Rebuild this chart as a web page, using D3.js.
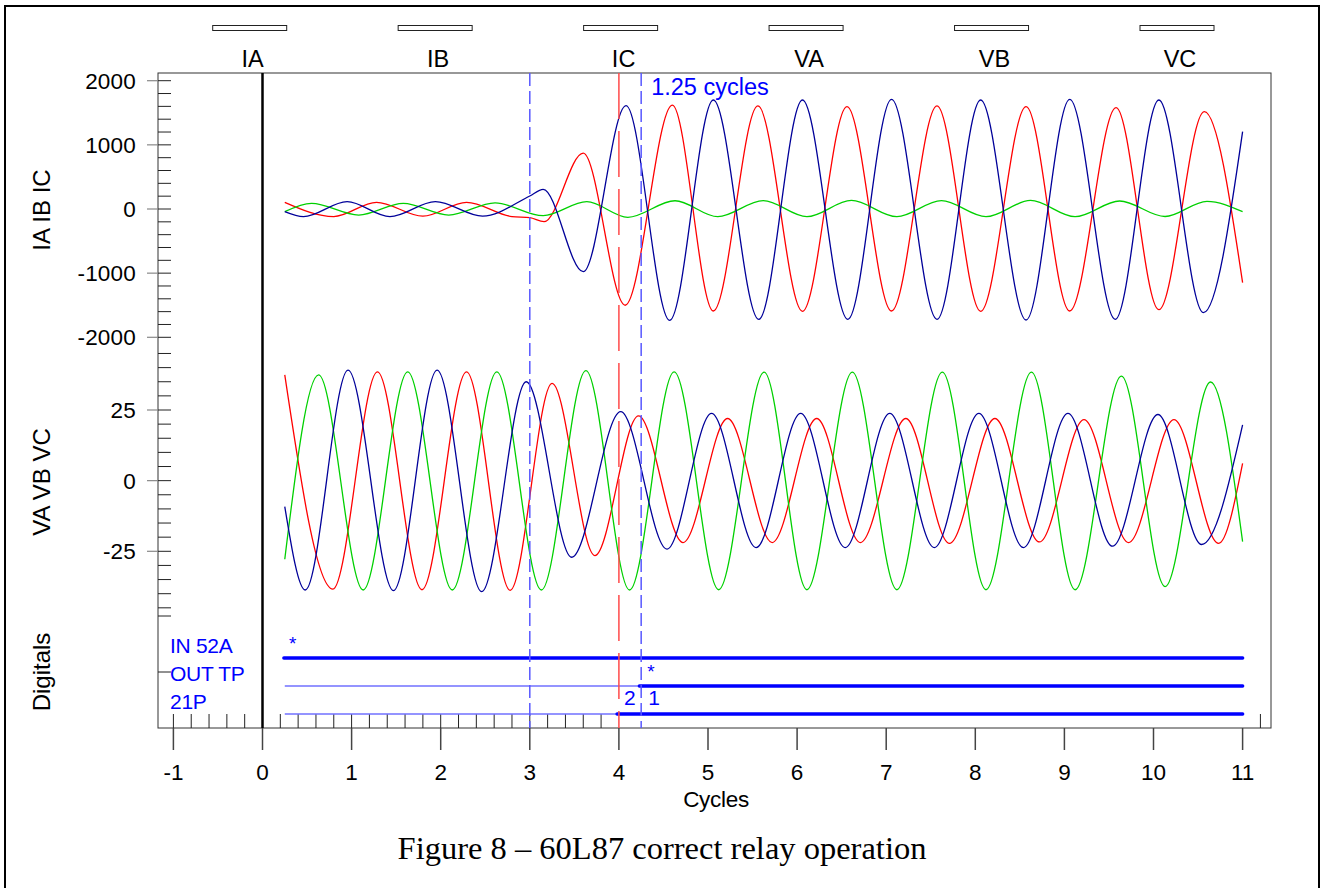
<!DOCTYPE html>
<html>
<head>
<meta charset="utf-8">
<script src="https://cdn.jsdelivr.net/npm/d3@7"></script>
<style>
  html, body { margin: 0; padding: 0; background: #fff; }
  svg { display: block; }
  text { font-family: "Liberation Sans", Arial, sans-serif; }
</style>
</head>
<body>
<svg id="chart" width="1322" height="888"></svg>
<script>
// channel names shown across the top
const channels = ['IA', 'IB', 'IC', 'VA', 'VB', 'VC'];

// current traces, peaks/troughs: [cycle, amps]
const iaPts = [[0.25, 104], [0.80, -118], [1.28, 104], [1.80, -112], [2.29, 104], [2.80, -118],
  [3.0, -135], [3.16, -198], [3.6, 870], [4.07, -1500], [4.6, 1620], [5.06, -1590], [5.56, 1606],
  [6.06, -1595], [6.56, 1595], [7.06, -1590], [7.57, 1606], [8.06, -1595], [8.57, 1595],
  [9.06, -1590], [9.58, 1580], [10.06, -1570], [10.57, 1517], [11.0, -1148]];
const ibPts = [[0.25, -42], [0.55, 88], [1.08, -94], [1.58, 88], [2.09, -94], [2.61, 95],
  [3.15, -104], [3.64, 114], [4.1, -129], [4.63, 129], [5.11, -120], [5.62, 130], [6.11, -120],
  [6.61, 133], [7.12, -120], [7.62, 130], [8.12, -120], [8.62, 133], [9.12, -120], [9.62, 125],
  [10.13, -117], [10.6, 120], [11.0, -40]];
const icPts = [[0.25, -42], [0.46, -120], [0.95, 114], [1.43, -120], [1.94, 114], [2.47, -112],
  [3.0, 203], [3.15, 307], [3.6, -977], [4.08, 1610], [4.57, -1735], [5.06, 1699], [5.57, -1720],
  [6.06, 1699], [6.57, -1720], [7.06, 1710], [7.57, -1720], [8.06, 1699], [8.57, -1730],
  [9.06, 1710], [9.57, -1720], [10.06, 1699], [10.56, -1616], [11.0, 1205]];

// voltage traces: [cycle, kV]
const vaPts = [[0.25, 37.4], [0.79, -38.4], [1.29, 38.5], [1.79, -38.6], [2.29, 38.5], [2.78, -38.8],
  [3.25, 34.4], [3.73, -26.5], [4.22, 22.9], [4.72, -21.9], [5.22, 22], [5.72, -21.9], [6.22, 22],
  [6.71, -21.9], [7.22, 22], [7.71, -22.2], [8.22, 22], [8.72, -21.7], [9.22, 21.6], [9.72, -21.9],
  [10.23, 21.6], [10.73, -22.2], [11.0, 6.1]];
const vbPts = [[0.25, -27.8], [0.63, 37.4], [1.13, -38.7], [1.63, 38.5], [2.13, -38.7], [2.63, 38.5],
  [3.13, -38.7], [3.63, 38.9], [4.12, -38.7], [4.62, 38.5], [5.12, -38.6], [5.63, 38.4], [6.11, -38.6],
  [6.62, 38.4], [7.12, -38.6], [7.63, 38.4], [8.12, -38.6], [8.63, 38.4], [9.12, -38.6], [9.64, 37.0],
  [10.13, -37.5], [10.64, 34.9], [11.0, -21.6]];
const vcPts = [[0.25, -9.2], [0.48, -38.7], [0.96, 39.1], [1.47, -38.9], [1.96, 39.1], [2.46, -39.3],
  [2.96, 35.0], [3.47, -27.1], [4.02, 24.4], [4.54, -24.2], [5.04, 23.8], [5.54, -23.7], [6.04, 23.8],
  [6.54, -23.7], [7.04, 23.8], [7.54, -23.7], [8.04, 23.8], [8.54, -23.7], [9.04, 23.8], [9.54, -23.2],
  [10.05, 23.4], [10.54, -22.6], [11.0, 19.7]];

const curTicks = [2000, 1000, 0, -1000, -2000];
const voltTicks = [25, 0, -25];
const cycleTicks = [-1, 0, 1, 2, 3, 4, 5, 6, 7, 8, 9, 10, 11];

// digital channels: label, row level, segments [from, to, asserted]
const digNames = ['IN 52A', 'OUT TP', '21P'];
const digLevels = [0.625, 0.375, 0.125];
const digSegs = [
  [[0.24, 11, 1]],
  [[0.25, 4.23, 0], [4.23, 11, 1]],
  [[0.25, 3.98, 0], [3.98, 11, 1]]
];
const digStars = [[0.34, 0], [4.36, 1]];  // [cycle, row]

// cursors
const cursors = [[3, 'blue'], [4, 'red'], [4.25, 'blue']];

// ---- layout
const L = 158, R = 1271, T = 73, B = 728;
const x = d3.scaleLinear().domain([-1, 11]).range([173.4, 1242.6]);
const yI = d3.scaleLinear().domain([-2000, 2000]).range([337.3, 80.7]);
const yV = d3.scaleLinear().domain([-25, 25]).range([551.3, 410]);
const yD = d3.scaleLinear().domain([0, 1]).range([B, 616]);

const svg = d3.select('#chart');

// outer page frame
svg.append('rect').attr('x', 5).attr('y', 6).attr('width', 1314).attr('height', 900)
  .attr('fill', 'none').attr('stroke', '#000').attr('stroke-width', 2);

// legend boxes + names
const legX = d3.scaleLinear().domain([0, 5]).range([212.7, 1140]);
const leg = svg.append('g');
channels.forEach((c, i) => {
  leg.append('rect').attr('x', legX(i)).attr('y', 25.5).attr('width', 74).attr('height', 5)
    .attr('fill', '#fff').attr('stroke', '#222').attr('stroke-width', 1);
  leg.append('text').attr('x', legX(i) + 40).attr('y', 66.5).attr('text-anchor', 'middle')
    .attr('font-size', 23.5).attr('fill', '#000').text(c);
});

// plot frame
svg.append('rect').attr('x', L).attr('y', T).attr('width', R - L).attr('height', B - T)
  .attr('fill', 'none').attr('stroke', '#333').attr('stroke-width', 1);

// y ticks
const yt = svg.append('g');
function leftTicks(scale, minor, major) {
  minor.forEach(v => {
    yt.append('line').attr('x1', L).attr('x2', 171).attr('y1', scale(v)).attr('y2', scale(v))
      .attr('stroke', '#222').attr('stroke-width', 1);
  });
  major.forEach(v => {
    yt.append('line').attr('x1', 147).attr('x2', L).attr('y1', scale(v)).attr('y2', scale(v))
      .attr('stroke', '#888').attr('stroke-width', 1.2);
    yt.append('text').attr('x', 136).attr('y', scale(v)).attr('dy', '0.36em')
      .attr('text-anchor', 'end').attr('font-size', 22.5).attr('letter-spacing', 0.2).text(v);
  });
}
leftTicks(yI, d3.range(-2000, 2001, 200), curTicks);
leftTicks(yV, d3.range(-45, 46, 5), voltTicks);
leftTicks(yD, [0.5, 1], []);

// x ticks
const xt = svg.append('g');
d3.range(-1, 3.9, 0.2).concat([11.2]).forEach(v => {
  xt.append('line').attr('x1', x(v)).attr('x2', x(v)).attr('y1', 714).attr('y2', B)
    .attr('stroke', '#222').attr('stroke-width', 1);
});
cycleTicks.forEach(v => {
  xt.append('line').attr('x1', x(v)).attr('x2', x(v)).attr('y1', B).attr('y2', 750)
    .attr('stroke', '#444').attr('stroke-width', 1.5);
  xt.append('text').attr('x', x(v)).attr('y', 780).attr('text-anchor', 'middle')
    .attr('font-size', 22.5).text(v);
});
svg.append('text').attr('x', 716).attr('y', 807).attr('text-anchor', 'middle')
  .attr('font-size', 22.5).attr('letter-spacing', -0.3).text('Cycles');

// axis titles
[['IA IB IC', 210], ['VA VB VC', 482], ['Digitals', 672]].forEach(([t, cy]) => {
  svg.append('text').attr('transform', `translate(50,${cy}) rotate(-90)`)
    .attr('text-anchor', 'middle').attr('font-size', 24).text(t);
});

// zero-cycle line
svg.append('line').attr('x1', x(0)).attr('x2', x(0)).attr('y1', T).attr('y2', B)
  .attr('stroke', '#000').attr('stroke-width', 2.5);

// traces
const trace = ys => d3.line().x(d => x(d[0])).y(d => ys(d[1])).curve(d3.curveMonotoneX);
const tr = svg.append('g').attr('fill', 'none').attr('stroke-width', 1.3);
[[iaPts, yI, '#ff0000'], [ibPts, yI, '#00d000'], [icPts, yI, '#000099'],
 [vaPts, yV, '#ff0000'], [vbPts, yV, '#00d000'], [vcPts, yV, '#000099']]
  .forEach(([pts, ys, col]) => {
    tr.append('path').attr('d', trace(ys)(pts)).attr('stroke', col);
  });

// digitals
const dg = svg.append('g');
digSegs.forEach((segs, i) => {
  const yy = yD(digLevels[i]);
  segs.forEach(([a, b, on]) => {
    dg.append('line').attr('x1', x(a)).attr('x2', x(b)).attr('y1', yy).attr('y2', yy)
      .attr('stroke', on ? '#0000ff' : '#7070ff')
      .attr('stroke-width', on ? 3.5 : 1.5)
      .attr('stroke-linecap', on ? 'round' : 'butt');
  });
  dg.append('text').attr('x', 170).attr('y', yy - 5).attr('font-size', 21)
    .attr('letter-spacing', -0.3).attr('fill', '#0000ff').text(digNames[i]);
});
digStars.forEach(([t, r]) => {
  dg.append('text').attr('x', x(t)).attr('y', yD(digLevels[r]) - 8).attr('text-anchor', 'middle')
    .attr('font-size', 19).attr('fill', '#0000ff').text('*');
});
dg.append('text').attr('x', x(4) + 5).attr('y', 705).attr('font-size', 21).attr('fill', '#0000ff').text('2');
dg.append('text').attr('x', x(4.25) + 7).attr('y', 705).attr('font-size', 21).attr('fill', '#0000ff').text('1');

// cursors
cursors.forEach(([t, kind]) => {
  svg.append('line').attr('x1', x(t)).attr('x2', x(t)).attr('y1', T).attr('y2', B)
    .attr('stroke', kind === 'red' ? '#ff4a4a' : '#5858ff')
    .attr('stroke-width', 1.5)
    .attr('stroke-dasharray', kind === 'red' ? '46,12' : '13,5');
});
svg.append('text').attr('x', x(4.25) + 10).attr('y', 95).attr('font-size', 23.5)
  .attr('fill', '#0000ff').text('1.25 cycles');

// caption
svg.append('text').attr('x', 662).attr('y', 859).attr('text-anchor', 'middle')
  .style('font-family', '"Liberation Serif", "Times New Roman", serif')
  .attr('font-size', 32.5).text('Figure 8 \u2013 60L87 correct relay operation');
</script>
</body>
</html>
